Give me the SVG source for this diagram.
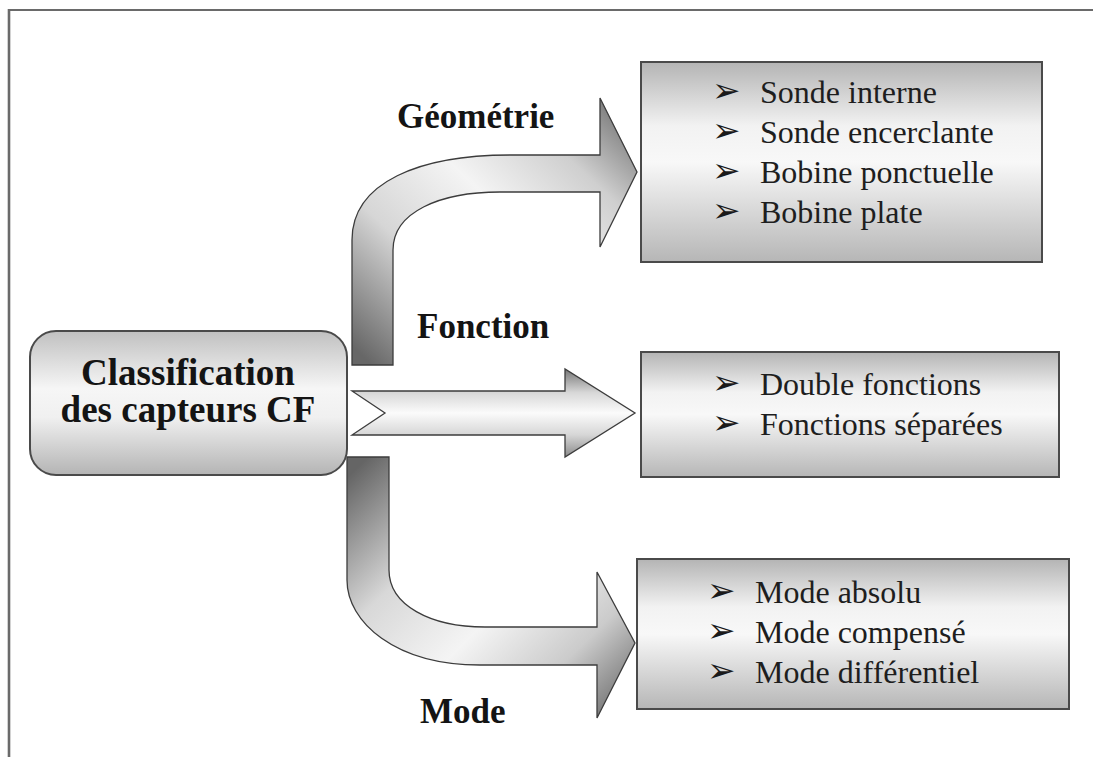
<svg xmlns="http://www.w3.org/2000/svg" width="1093" height="757" viewBox="0 0 1093 757">
  <style>
    .frame { stroke: #6a6a6a; fill: none; }
    .arrow { stroke: #3c3c3c; stroke-width: 1.3; stroke-linejoin: miter; }
    .box { stroke: #4a4a4a; stroke-width: 2; }
    .label { font-family: "Liberation Serif", "Times New Roman", serif; font-weight: bold; font-size: 35px; fill: #141414; }
    .title { font-family: "Liberation Serif", "Times New Roman", serif; font-weight: bold; font-size: 37px; fill: #141414; }
    .item { font-family: "Liberation Serif", "Times New Roman", serif; font-size: 32px; fill: #1e1e1e; }
    .bullet { font-family: "DejaVu Sans", sans-serif; font-size: 34px; fill: #1a1a1a; }
  </style>
  <defs>
    <linearGradient id="boxFill" x1="0" y1="0" x2="0" y2="1">
      <stop offset="0" stop-color="#b4b4b4"/>
      <stop offset="0.32" stop-color="#f2f2f2"/>
      <stop offset="0.5" stop-color="#f8f8f8"/>
      <stop offset="1" stop-color="#b6b6b6"/>
    </linearGradient>
    <linearGradient id="rootFill" x1="0" y1="0" x2="0" y2="1">
      <stop offset="0" stop-color="#c0c0c0"/>
      <stop offset="0.4" stop-color="#f6f6f6"/>
      <stop offset="0.6" stop-color="#f0f0f0"/>
      <stop offset="1" stop-color="#b4b4b4"/>
    </linearGradient>
    <linearGradient id="upFill" gradientUnits="userSpaceOnUse" x1="372" y1="365" x2="622" y2="98">
      <stop offset="0" stop-color="#676767"/>
      <stop offset="0.3" stop-color="#d6d6d6"/>
      <stop offset="0.55" stop-color="#f4f4f4"/>
      <stop offset="0.78" stop-color="#cfcfcf"/>
      <stop offset="1" stop-color="#6c6c6c"/>
    </linearGradient>
    <linearGradient id="midFill" gradientUnits="userSpaceOnUse" x1="0" y1="369" x2="0" y2="457">
      <stop offset="0" stop-color="#767676"/>
      <stop offset="0.27" stop-color="#d8d8d8"/>
      <stop offset="0.5" stop-color="#fbfbfb"/>
      <stop offset="0.75" stop-color="#d6d6d6"/>
      <stop offset="1" stop-color="#8a8a8a"/>
    </linearGradient>
    <linearGradient id="downFill" gradientUnits="userSpaceOnUse" x1="368" y1="457" x2="622" y2="718">
      <stop offset="0" stop-color="#656565"/>
      <stop offset="0.3" stop-color="#d8d8d8"/>
      <stop offset="0.55" stop-color="#f4f4f4"/>
      <stop offset="0.78" stop-color="#cbcbcb"/>
      <stop offset="1" stop-color="#686868"/>
    </linearGradient>
  </defs>

  <!-- page frame: top and left rules -->
  <g id="frame">
    <line class="frame" x1="8" y1="10" x2="1093" y2="10" stroke-width="2"/>
    <line class="frame" x1="9" y1="9" x2="9" y2="757" stroke-width="2.6"/>
  </g>

  <!-- block arrows -->
  <g id="connectors">
    <path id="arrow-geometrie" class="arrow" fill="url(#upFill)"
          d="M352,365 L352,240 C352,182 420,155 510,155 L600,155 L600,98 L637,172 L600,247 L600,192 L500,192 C440,192 393,212 393,250 L393,365 Z"/>
    <path id="arrow-fonction" class="arrow" fill="url(#midFill)"
          d="M352,391 L565,391 L565,369 L635,413 L565,457 L565,435 L352,435 L385,413 Z"/>
    <path id="arrow-mode" class="arrow" fill="url(#downFill)"
          d="M347,457 L347,580 C347,622 395,665 480,665 L597,665 L597,718 L635,643 L597,572 L597,627 L485,627 C430,627 389,605 389,570 L389,457 Z"/>
  </g>

  <!-- branch labels -->
  <g id="labels">
    <text class="label" x="397" y="128">Géométrie</text>
    <text class="label" x="417" y="338">Fonction</text>
    <text class="label" x="420" y="723">Mode</text>
  </g>

  <!-- root node -->
  <g id="root">
    <rect class="box" x="30" y="331" width="317" height="144" rx="26" ry="26" fill="url(#rootFill)"/>
    <text class="title" x="188" y="385" text-anchor="middle">Classification</text>
    <text class="title" x="188" y="422" text-anchor="middle">des capteurs CF</text>
  </g>

  <!-- geometry list -->
  <g id="box-geometrie">
    <rect class="box" x="641" y="62" width="401" height="200" fill="url(#boxFill)"/>
    <text class="bullet" x="712" y="102">➢</text>
    <text class="item" x="760" y="103">Sonde interne</text>
    <text class="bullet" x="712" y="142">➢</text>
    <text class="item" x="760" y="143">Sonde encerclante</text>
    <text class="bullet" x="712" y="182">➢</text>
    <text class="item" x="760" y="183">Bobine ponctuelle</text>
    <text class="bullet" x="712" y="222">➢</text>
    <text class="item" x="760" y="223">Bobine plate</text>
  </g>

  <!-- function list -->
  <g id="box-fonction">
    <rect class="box" x="641" y="352" width="418" height="125" fill="url(#boxFill)"/>
    <text class="bullet" x="712" y="394">➢</text>
    <text class="item" x="760" y="395">Double fonctions</text>
    <text class="bullet" x="712" y="434">➢</text>
    <text class="item" x="760" y="435">Fonctions séparées</text>
  </g>

  <!-- mode list -->
  <g id="box-mode">
    <rect class="box" x="637" y="559" width="432" height="150" fill="url(#boxFill)"/>
    <text class="bullet" x="707" y="602">➢</text>
    <text class="item" x="755" y="603">Mode absolu</text>
    <text class="bullet" x="707" y="642">➢</text>
    <text class="item" x="755" y="643">Mode compensé</text>
    <text class="bullet" x="707" y="682">➢</text>
    <text class="item" x="755" y="683">Mode différentiel</text>
  </g>
</svg>
